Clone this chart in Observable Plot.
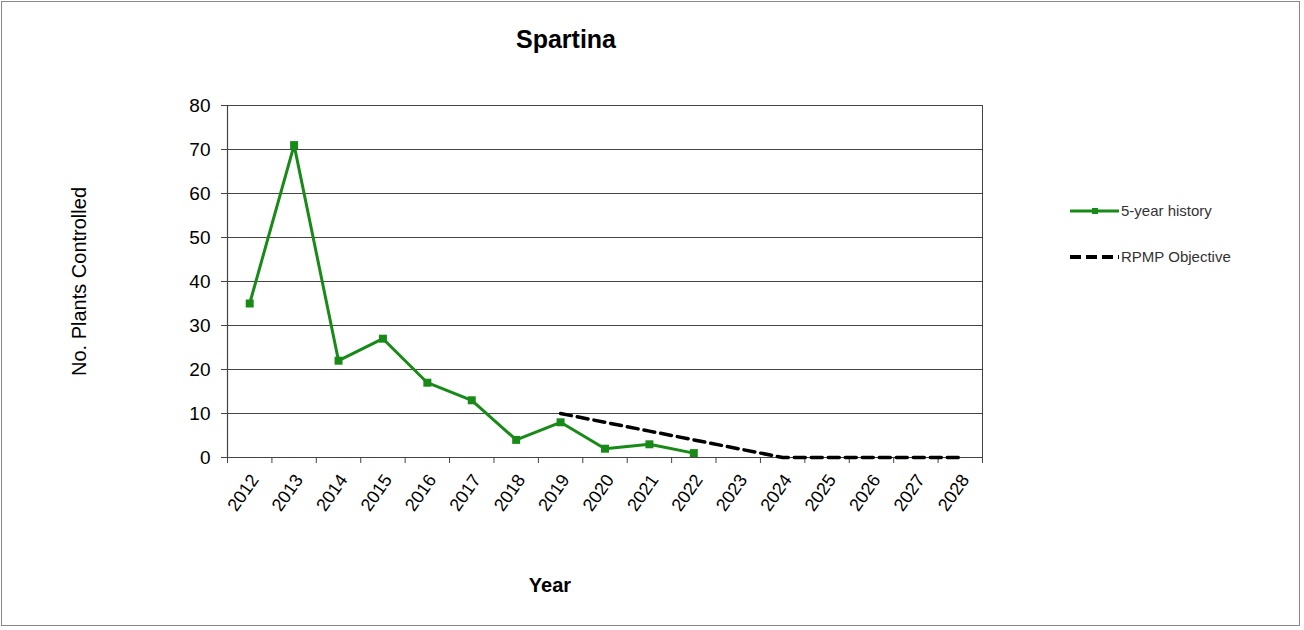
<!DOCTYPE html>
<html>
<head>
<meta charset="utf-8">
<script src="https://cdn.jsdelivr.net/npm/d3@7"></script>
<script src="https://cdn.jsdelivr.net/npm/@observablehq/plot@0.6"></script>
<style>
  html, body { margin: 0; padding: 0; background: #fff; }
  #wrap { position: relative; width: 1304px; height: 630px; font-family: "Liberation Sans", Arial, sans-serif; }
  #frame { position: absolute; left: 1px; top: 1px; width: 1299px; height: 625px; border: 1.5px solid #888; box-sizing: border-box; pointer-events: none; }
  #title { position: absolute; left: 466px; width: 200px; top: 25px; text-align: center; font-weight: bold; font-size: 25px; color: #000; }
  #xlabel { position: absolute; left: 450px; width: 200px; top: 574px; text-align: center; font-weight: bold; font-size: 20px; color: #000; }
  .leg { position: absolute; left: 1068px; font-size: 15px; color: #333; display: flex; align-items: center; white-space: nowrap; }
  .leg svg { margin-right: 1px; }
</style>
</head>
<body>
<div id="wrap">
  <div id="chart"></div>
  <div id="title">Spartina</div>
  <div id="xlabel">Year</div>
  <div class="leg" style="top:202px">
    <svg width="52" height="14"><line x1="2" y1="7" x2="51" y2="7" stroke="#178a17" stroke-width="3"/><rect x="24" y="4" width="6" height="6" fill="#178a17"/></svg>5-year history
  </div>
  <div class="leg" style="top:248px">
    <svg width="52" height="14"><line x1="2" y1="7" x2="51" y2="7" stroke="#000" stroke-width="4" stroke-dasharray="11,5"/></svg>RPMP Objective
  </div>
  <div id="frame"></div>
</div>
<script>
const years = [2012, 2013, 2014, 2015, 2016, 2017, 2018, 2019, 2020, 2021, 2022, 2023, 2024, 2025, 2026, 2027, 2028];
const historyYears = [2012, 2013, 2014, 2015, 2016, 2017, 2018, 2019, 2020, 2021, 2022];
const historyValues = [35, 71, 22, 27, 17, 13, 4, 8, 2, 3, 1];
const objectiveYears = [2019, 2020, 2021, 2022, 2023, 2024, 2025, 2026, 2027, 2028];
const objectiveValues = [10, 8, 6, 4, 2, 0, 0, 0, 0, 0];
const yTicks = [0, 10, 20, 30, 40, 50, 60, 70, 80];

const history = historyYears.map((y, i) => ({year: y, value: historyValues[i]}));
const objective = objectiveYears.map((y, i) => ({year: y, value: objectiveValues[i]}));
const boundaries = [...years.map(y => y - 0.5), years[years.length - 1] + 0.5];

const green = "#178a17";

const chart = Plot.plot({
  width: 1304,
  height: 630,
  marginLeft: 227,
  marginRight: 322,
  marginTop: 105,
  marginBottom: 173,
  style: {fontFamily: "Liberation Sans, Arial, sans-serif", fontSize: "18px", color: "#000", background: "transparent"},
  x: {type: "linear", domain: [years[0] - 0.5, years[years.length - 1] + 0.5]},
  y: {domain: [0, 80]},
  marks: [
    Plot.ruleY(yTicks, {stroke: "#444", strokeWidth: 1}),
    Plot.ruleX([years[0] - 0.5], {stroke: "#444", strokeWidth: 1.2}),
    Plot.ruleX([years[years.length - 1] + 0.5], {stroke: "#444", strokeWidth: 1}),
    Plot.axisY(yTicks, {tickSize: 6, tickPadding: 11, fontSize: 19, label: "No. Plants Controlled", labelAnchor: "center", labelOffset: 156, labelArrow: "none", stroke: "#444"}),
    Plot.axisX(boundaries, {tickSize: 6, tickFormat: () => "", label: null, stroke: "#444"}),
    Plot.axisX(years, {tickSize: 0, tickPadding: 19, dx: 5, tickRotate: -55, tickFormat: d => String(d), fontSize: 18, label: null}),
    Plot.line(objective, {x: "year", y: "value", stroke: "#000", strokeWidth: 3.5, strokeDasharray: "11,6"}),
    Plot.line(history, {x: "year", y: "value", stroke: green, strokeWidth: 3}),
    Plot.dot(history, {x: "year", y: "value", symbol: "square", r: 4.5, fill: green})
  ]
});
chart.querySelectorAll("g[aria-label='y-axis label'] text").forEach(t => t.setAttribute("font-size", "20"));
document.getElementById("chart").appendChild(chart);
</script>
</body>
</html>
